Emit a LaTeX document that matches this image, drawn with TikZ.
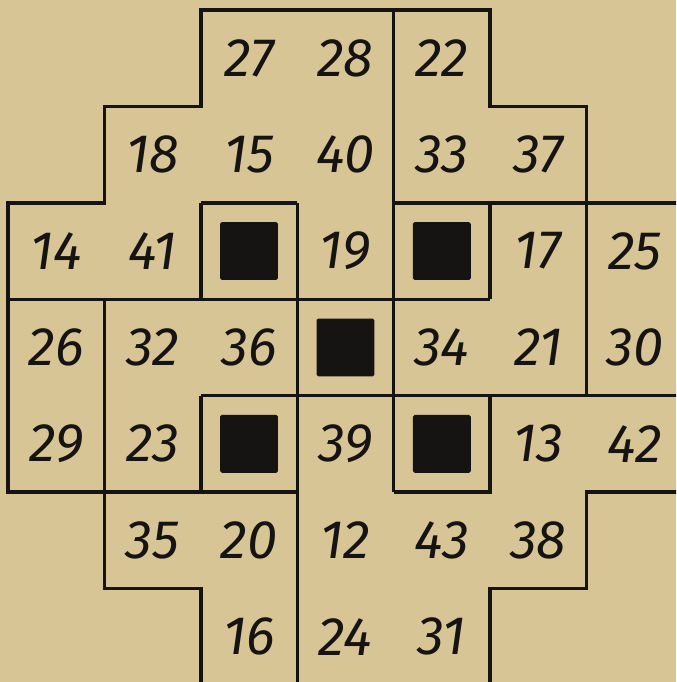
\documentclass[tikz,border=0pt]{standalone}
\usepackage{fontspec}
\setmainfont{Fira Sans}
\usepackage{tikz}
\usetikzlibrary{positioning}
\definecolor{paper}{RGB}{216,197,150}
\definecolor{ink}{RGB}{22,20,18}

\begin{document}
\begin{tikzpicture}[
  num/.style={font=\fontsize{16}{16}\selectfont\itshape,text=ink,inner sep=0pt},
  blk/.style={fill=ink,minimum size=0.6cm,inner sep=0pt,rounded corners=0.5pt},
  wall/.style={draw=ink,line width=1pt,line join=miter}]
\clip (-0.083,0.104) rectangle (6.93,-6.97);
\fill[paper] (-0.083,0.104) rectangle (6.93,-6.97);
% outline
\draw[wall] (2,-7.2)--(2,-6)--(1,-6)--(1,-5)--(0,-5)--(0,-2)--(1,-2)--(1,-1)
  --(2,-1)--(2,0)--(5,0)--(5,-1)--(6,-1)--(6,-2)--(7.2,-2);
\draw[wall] (7.2,-5)--(6,-5)--(6,-6)--(5,-6)--(5,-7.2);
% inner walls
\draw[wall] (4,0)--(4,-5);
\draw[wall] (3,-2)--(3,-7.2);
\draw[wall] (2,-2)--(3,-2) (2,-2)--(2,-3);
\draw[wall] (4,-2)--(6,-2) (5,-2)--(5,-3) (6,-2)--(6,-4);
\draw[wall] (0,-3)--(5,-3);
\draw[wall] (2,-4)--(7.2,-4) (2,-4)--(2,-5);
\draw[wall] (1,-3)--(1,-5) (0,-5)--(3,-5);
\draw[wall] (4,-5)--(5,-5)--(5,-4);
% black squares
\node[blk] (b1) at (2.5,-2.5) {};
\node[blk] (b2) at (4.5,-2.5) {};
\node[blk] (b3) at (3.5,-3.5) {};
\node[blk] (b4) at (2.5,-4.5) {};
\node[blk] (b5) at (4.5,-4.5) {};
% numbers
\node[num] (n27) at (2.5,-0.5) {27};
\node[num] (n28) at (3.5,-0.5) {28};
\node[num] (n22) at (4.5,-0.5) {22};
\node[num] (n18) at (1.5,-1.5) {18};
\node[num] (n15) at (2.5,-1.5) {15};
\node[num] (n40) at (3.5,-1.5) {40};
\node[num] (n33) at (4.5,-1.5) {33};
\node[num] (n37) at (5.5,-1.5) {37};
\node[num] (n14) at (0.5,-2.5) {14};
\node[num] (n41) at (1.5,-2.5) {41};
\node[num] (n19) at (3.5,-2.5) {19};
\node[num] (n17) at (5.5,-2.5) {17};
\node[num] (n25) at (6.5,-2.5) {25};
\node[num] (n26) at (0.5,-3.5) {26};
\node[num] (n32) at (1.5,-3.5) {32};
\node[num] (n36) at (2.5,-3.5) {36};
\node[num] (n34) at (4.5,-3.5) {34};
\node[num] (n21) at (5.5,-3.5) {21};
\node[num] (n30) at (6.5,-3.5) {30};
\node[num] (n29) at (0.5,-4.5) {29};
\node[num] (n23) at (1.5,-4.5) {23};
\node[num] (n39) at (3.5,-4.5) {39};
\node[num] (n13) at (5.5,-4.5) {13};
\node[num] (n42) at (6.5,-4.5) {42};
\node[num] (n35) at (1.5,-5.5) {35};
\node[num] (n20) at (2.5,-5.5) {20};
\node[num] (n12) at (3.5,-5.5) {12};
\node[num] (n43) at (4.5,-5.5) {43};
\node[num] (n38) at (5.5,-5.5) {38};
\node[num] (n16) at (2.5,-6.5) {16};
\node[num] (n24) at (3.5,-6.5) {24};
\node[num] (n31) at (4.5,-6.5) {31};
\end{tikzpicture}
\end{document}
